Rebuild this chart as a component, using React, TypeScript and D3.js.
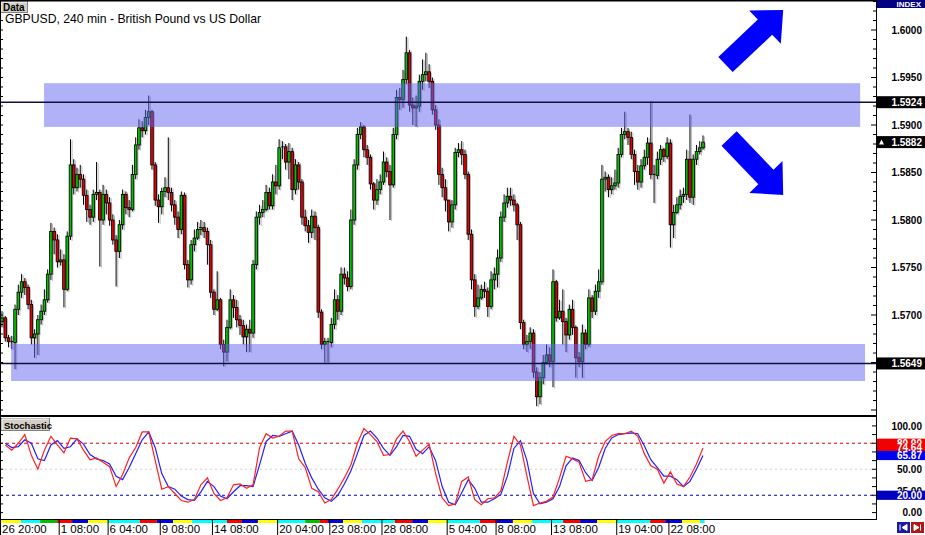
import React from 'react';
import * as d3 from 'd3';

// ---------- price data (GBPUSD, 240 min) ----------
const firstOpen = 1.5693;
const closes = [
  1.5697, 1.5676, 1.5672, 1.5671, 1.5706, 1.5724, 1.5735, 1.5729, 1.5711, 1.5676,
  1.5680, 1.5695, 1.5704, 1.5716, 1.5743, 1.5788, 1.5779, 1.5756, 1.5758, 1.5727,
  1.5783, 1.5858, 1.5834, 1.5848, 1.5843, 1.5826, 1.5811, 1.5803, 1.5827, 1.5829,
  1.5800, 1.5827, 1.5818, 1.5800, 1.5779, 1.5767, 1.5795, 1.5827, 1.5813, 1.5811,
  1.5848, 1.5879, 1.5897, 1.5894, 1.5908, 1.5914, 1.5858, 1.5821, 1.5814, 1.5830,
  1.5834, 1.5829, 1.5816, 1.5803, 1.5790, 1.5826, 1.5753, 1.5737, 1.5774, 1.5781,
  1.5790, 1.5792, 1.5788, 1.5774, 1.5724, 1.5706, 1.5716, 1.5669, 1.5661, 1.5687,
  1.5716, 1.5708, 1.5695, 1.5689, 1.5677, 1.5685, 1.5681, 1.5753, 1.5803, 1.5808,
  1.5811, 1.5829, 1.5815, 1.5840, 1.5836, 1.5876, 1.5877, 1.5861, 1.5872, 1.5832,
  1.5858, 1.5840, 1.5803, 1.5794, 1.5787, 1.5804, 1.5792, 1.5703, 1.5669, 1.5672,
  1.5671, 1.5690, 1.5716, 1.5704, 1.5743, 1.5739, 1.5730, 1.5800, 1.5858, 1.5890,
  1.5898, 1.5874, 1.5866, 1.5838, 1.5821, 1.5832, 1.5840, 1.5861, 1.5851, 1.5837,
  1.5890, 1.5929, 1.5927, 1.5948, 1.5976, 1.5921, 1.5918, 1.5920, 1.5946, 1.5953,
  1.5956, 1.5946, 1.5916, 1.5900, 1.5848, 1.5834, 1.5821, 1.5798, 1.5816, 1.5871,
  1.5874, 1.5869, 1.5848, 1.5785, 1.5737, 1.5709, 1.5718, 1.5727, 1.5725, 1.5709,
  1.5737, 1.5743, 1.5760, 1.5803, 1.5818, 1.5825, 1.5821, 1.5816, 1.5795, 1.5692,
  1.5669, 1.5672, 1.5681, 1.5640, 1.5614, 1.5634, 1.5650, 1.5658, 1.5651, 1.5735,
  1.5697, 1.5704, 1.5693, 1.5679, 1.5706, 1.5687, 1.5655, 1.5651, 1.5681, 1.5669,
  1.5718, 1.5704, 1.5725, 1.5735, 1.5843, 1.5845, 1.5832, 1.5836, 1.5839, 1.5869,
  1.5890, 1.5893, 1.5887, 1.5869, 1.5851, 1.5840, 1.5857, 1.5866, 1.5881, 1.5848,
  1.5847, 1.5864, 1.5874, 1.5867, 1.5881, 1.5795, 1.5808, 1.5816, 1.5825, 1.5827,
  1.5864, 1.5824, 1.5864, 1.5872, 1.5876, 1.5882,
];
const highs = [
  1.5704, 1.5699, 1.5679, 1.5678, 1.5711, 1.5732, 1.5743, 1.5739, 1.5732, 1.5716,
  1.5685, 1.5700, 1.5711, 1.5727, 1.5748, 1.5797, 1.5792, 1.5785, 1.5769, 1.5764,
  1.5788, 1.5885, 1.5864, 1.5855, 1.5858, 1.5848, 1.5832, 1.5816, 1.5832, 1.5861,
  1.5832, 1.5837, 1.5832, 1.5824, 1.5806, 1.5784, 1.5800, 1.5832, 1.5830, 1.5821,
  1.5858, 1.5887, 1.5906, 1.5904, 1.5916, 1.5931, 1.5916, 1.5861, 1.5827, 1.5834,
  1.5845, 1.5887, 1.5834, 1.5821, 1.5809, 1.5830, 1.5829, 1.5758, 1.5779, 1.5790,
  1.5798, 1.5800, 1.5798, 1.5792, 1.5779, 1.5727, 1.5746, 1.5718, 1.5674, 1.5695,
  1.5727, 1.5721, 1.5716, 1.5700, 1.5695, 1.5690, 1.5695, 1.5758, 1.5809, 1.5816,
  1.5821, 1.5837, 1.5834, 1.5848, 1.5858, 1.5885, 1.5883, 1.5880, 1.5881, 1.5876,
  1.5864, 1.5861, 1.5843, 1.5811, 1.5800, 1.5811, 1.5809, 1.5795, 1.5706, 1.5676,
  1.5676, 1.5697, 1.5727, 1.5721, 1.5750, 1.5750, 1.5746, 1.5811, 1.5864, 1.5897,
  1.5903, 1.5900, 1.5879, 1.5869, 1.5840, 1.5843, 1.5848, 1.5872, 1.5866, 1.5858,
  1.5897, 1.5937, 1.5939, 1.5958, 1.5993, 1.5979, 1.5929, 1.5931, 1.5953, 1.5969,
  1.5976, 1.5964, 1.5950, 1.5921, 1.5906, 1.5855, 1.5843, 1.5821, 1.5821, 1.5876,
  1.5881, 1.5883, 1.5874, 1.5851, 1.5790, 1.5743, 1.5732, 1.5732, 1.5735, 1.5729,
  1.5746, 1.5750, 1.5769, 1.5809, 1.5827, 1.5834, 1.5834, 1.5827, 1.5818, 1.5798,
  1.5695, 1.5679, 1.5687, 1.5685, 1.5645, 1.5640, 1.5658, 1.5669, 1.5666, 1.5748,
  1.5737, 1.5716, 1.5727, 1.5697, 1.5711, 1.5716, 1.5689, 1.5661, 1.5690, 1.5685,
  1.5727, 1.5721, 1.5732, 1.5748, 1.5858, 1.5851, 1.5848, 1.5845, 1.5853, 1.5876,
  1.5897, 1.5914, 1.5897, 1.5893, 1.5874, 1.5858, 1.5864, 1.5874, 1.5887, 1.5925,
  1.5858, 1.5872, 1.5879, 1.5876, 1.5887, 1.5885, 1.5816, 1.5824, 1.5832, 1.5834,
  1.5874, 1.5911, 1.5869, 1.5879, 1.5883, 1.5889,
];
const lows = [
  1.5687, 1.5672, 1.5666, 1.5664, 1.5643, 1.5700, 1.5718, 1.5721, 1.5706, 1.5669,
  1.5655, 1.5658, 1.5690, 1.5700, 1.5713, 1.5737, 1.5764, 1.5750, 1.5752, 1.5708,
  1.5725, 1.5779, 1.5827, 1.5830, 1.5834, 1.5816, 1.5798, 1.5795, 1.5798, 1.5821,
  1.5751, 1.5795, 1.5806, 1.5794, 1.5774, 1.5730, 1.5760, 1.5790, 1.5806, 1.5803,
  1.5809, 1.5843, 1.5874, 1.5887, 1.5890, 1.5900, 1.5853, 1.5815, 1.5797, 1.5806,
  1.5824, 1.5821, 1.5809, 1.5795, 1.5781, 1.5785, 1.5748, 1.5729, 1.5732, 1.5767,
  1.5779, 1.5784, 1.5781, 1.5753, 1.5718, 1.5700, 1.5704, 1.5664, 1.5646, 1.5651,
  1.5685, 1.5697, 1.5687, 1.5679, 1.5669, 1.5661, 1.5661, 1.5676, 1.5748, 1.5795,
  1.5803, 1.5809, 1.5811, 1.5811, 1.5827, 1.5832, 1.5864, 1.5853, 1.5843, 1.5821,
  1.5827, 1.5832, 1.5795, 1.5788, 1.5776, 1.5781, 1.5779, 1.5697, 1.5664, 1.5650,
  1.5650, 1.5666, 1.5685, 1.5695, 1.5700, 1.5732, 1.5725, 1.5727, 1.5795, 1.5853,
  1.5885, 1.5866, 1.5858, 1.5832, 1.5811, 1.5816, 1.5827, 1.5837, 1.5845, 1.5800,
  1.5834, 1.5885, 1.5916, 1.5918, 1.5943, 1.5914, 1.5900, 1.5898, 1.5914, 1.5937,
  1.5946, 1.5939, 1.5911, 1.5895, 1.5837, 1.5824, 1.5809, 1.5788, 1.5792, 1.5811,
  1.5866, 1.5858, 1.5843, 1.5779, 1.5727, 1.5698, 1.5706, 1.5716, 1.5718, 1.5698,
  1.5706, 1.5727, 1.5729, 1.5756, 1.5798, 1.5813, 1.5815, 1.5809, 1.5779, 1.5685,
  1.5664, 1.5661, 1.5664, 1.5634, 1.5604, 1.5606, 1.5627, 1.5648, 1.5645, 1.5624,
  1.5693, 1.5695, 1.5669, 1.5661, 1.5674, 1.5679, 1.5634, 1.5645, 1.5634, 1.5664,
  1.5666, 1.5697, 1.5700, 1.5718, 1.5732, 1.5830, 1.5824, 1.5827, 1.5832, 1.5834,
  1.5866, 1.5885, 1.5879, 1.5864, 1.5837, 1.5832, 1.5834, 1.5853, 1.5858, 1.5843,
  1.5818, 1.5843, 1.5858, 1.5861, 1.5864, 1.5771, 1.5781, 1.5806, 1.5811, 1.5818,
  1.5821, 1.5818, 1.5816, 1.5858, 1.5869, 1.5874,
];

// ---------- Stochastic (read every second bar: bars 1,3,5,...) ----------
const stochMain = [
  78, 72, 80, 90, 66, 50, 72, 88, 78, 69,
  86, 85, 72, 61, 63, 58, 53, 30, 44, 63,
  75, 93, 93, 60, 27, 30, 22, 14, 12, 15,
  32, 40, 22, 14, 17, 32, 33, 28, 32, 75,
  91, 86, 88, 94, 94, 62, 52, 28, 24, 11,
  15, 27, 40, 55, 80, 97, 90, 82, 66, 67,
  85, 94, 82, 65, 72, 79, 45, 17, 8, 10,
  36, 41, 15, 9, 16, 17, 25, 58, 88, 78,
  42, 8, 11, 13, 18, 40, 65, 62, 58, 36,
  38, 65, 82, 89, 91, 91, 94, 88, 68, 54,
  50, 34, 47, 33, 30, 41, 56, 74.64,
];
const stochSignal = [
  80, 75, 76, 84, 80, 62, 60, 78, 83, 74,
  76, 85, 79, 67, 62, 60, 56, 42, 38, 52,
  68, 84, 93, 75, 45, 30, 27, 19, 15, 14,
  24, 36, 30, 19, 16, 24, 31, 31, 30, 55,
  82, 89, 88, 91, 94, 78, 57, 40, 27, 17,
  13, 20, 33, 48, 68, 89, 94, 86, 74, 66,
  76, 89, 88, 73, 68, 76, 60, 30, 12, 9,
  23, 38, 28, 12, 12, 16, 21, 42, 74, 83,
  60, 22, 10, 12, 16, 30, 54, 63, 60, 46,
  37, 52, 74, 86, 90, 91, 92, 91, 77, 61,
  52, 42, 42, 38, 30, 36, 50, 65.87,
];

// ---------- axes / annotations ----------
const priceTicks = [1.6, 1.595, 1.59, 1.585, 1.58, 1.575, 1.57, 1.565];
const stochTickLabels = [100, 50, 25, 0];
const stochLevels = [80, 50, 20];
const timeLabels = ['26 20:00', '1 08:00', '6 04:00', '9 08:00', '14 08:00', '20 04:00', '23 08:00', '28 08:00', '5 04:00', '8 08:00', '13 08:00', '19 04:00', '22 08:00'];
const timeLabelBars = [0, 18, 33, 49, 65, 85, 101, 117, 137, 152, 169, 189, 205];
const levelPrices = [1.5924, 1.5649];
const zoneTops = [1.5944, 1.56695];
const zoneBottoms = [1.5898, 1.56305];
const zoneStartBars = [12.9, 2.8];
const zoneEndBars = [263.2, 264.7];
const arrowTailBars = [221.9, 223];
const arrowTailPrices = [1.59637, 1.58858];
const arrowTipBars = [239.6, 239.6];
const arrowTipPrices = [1.60211, 1.58263];
const stripBars = [-0.6, 5.8, 11.7, 16.9, 21.5, 26.4, 32.5, 42.3, 47.5, 52.5, 58.3, 69, 73.6, 78.5, 84.4, 93, 97.5, 100, 104.6, 110.4, 120.5, 125.8, 130.7, 136.5, 146.6, 151.8, 156.7, 162.6, 172.1, 177.3, 182.5, 188.6, 198.8, 203.4, 208.6, 214.1, 215.5];
const stripColors = ['#FFFF00', '#00FFFF', '#00C000', '#FF0000', '#0000E0', '#FFFF00', '#00FFFF', '#FF0000', '#0000E0', '#FFFF00', '#00FFFF', '#FF0000', '#0000E0', '#FFFF00', '#00FFFF', '#00C000', '#FF0000', '#0000E0', '#FFFF00', '#00FFFF', '#FF0000', '#0000E0', '#FFFF00', '#00FFFF', '#FF0000', '#0000E0', '#FFFF00', '#00FFFF', '#FF0000', '#0000E0', '#FFFF00', '#00FFFF', '#FF0000', '#0000E0', '#FFFF00', '#00FFFF'];

const FONT = "'Liberation Sans', Arial, sans-serif";
const GREEN = '#00C000';
const RED = '#E00000';

export default function App() {
  const n = closes.length;
  const AX = 876;
  const MAIN_TOP = 1, MAIN_BOTTOM = 416, ST_TOP = 417, ST_BOTTOM = 519;
  const x = d3.scaleLinear().domain([0, n - 1]).range([2, 703]);
  const y = d3.scaleLinear().domain([1.6, 1.57]).range([30, 315]);
  const ys = d3.scaleLinear().domain([0, 100]).range([512.6, 425.9]);
  const f4 = d3.format('.4f');
  const f2 = d3.format('.2f');

  const candles = closes.map((c, i) => {
    const o = i === 0 ? firstOpen : closes[i - 1];
    return { i, o, c, h: Math.max(highs[i], o, c), l: Math.min(lows[i], o, c) };
  });
  const bw = 2.6;

  const stochLine = d3.line<number>().x((_, k) => x(2 * k + 1)).y((v) => ys(v));

  const minorPrice = d3.range(0, 45).map((j) => 1.56 + j * 0.001);
  const stochMinor = d3.range(0, 11).map((j) => j * 10);

  const arrowPath = (k: number) => {
    const x1 = x(arrowTailBars[k]), y1 = y(arrowTailPrices[k]);
    const x2 = x(arrowTipBars[k]), y2 = y(arrowTipPrices[k]);
    const len = Math.hypot(x2 - x1, y2 - y1);
    const ux = (x2 - x1) / len, uy = (y2 - y1) / len;
    const nx = -uy, ny = ux;
    const sw = 10.5, hw = 23, hl = 25;
    const bx = x2 - ux * hl, by = y2 - uy * hl;
    const pts = [
      [x1 + nx * sw, y1 + ny * sw], [bx + nx * sw, by + ny * sw], [bx + nx * hw, by + ny * hw],
      [x2, y2], [bx - nx * hw, by - ny * hw], [bx - nx * sw, by - ny * sw], [x1 - nx * sw, y1 - ny * sw],
    ];
    return 'M' + pts.map((p) => p[0].toFixed(1) + ',' + p[1].toFixed(1)).join('L') + 'Z';
  };

  const lastPrice = closes[n - 1];
  const priceBoxes = [
    { v: levelPrices[0], tri: false },
    { v: levelPrices[1], tri: false },
    { v: lastPrice, tri: true },
  ];
  const lastK = stochMain[stochMain.length - 1];
  const lastD = stochSignal[stochSignal.length - 1];
  const stochBoxes = [
    { v: 80, fill: '#F00000' },
    { v: lastK, fill: '#F00000' },
    { v: lastD, fill: '#0000F0' },
    { v: 20, fill: '#0000C0' },
  ];

  return (
    <div style={{ position: 'absolute', left: 0, top: 0 }}>
      <svg width={925} height={535} style={{ display: 'block', fontFamily: FONT }}>
        <defs>
          <clipPath id="mainClip"><rect x={1} y={MAIN_TOP} width={AX - 1} height={MAIN_BOTTOM - MAIN_TOP} /></clipPath>
          <clipPath id="stClip"><rect x={1} y={ST_TOP} width={AX - 1} height={ST_BOTTOM - ST_TOP} /></clipPath>
        </defs>
        <rect x={0} y={0} width={925} height={535} fill="#FFFFFF" />

        {/* ---------- main panel ---------- */}
        <g clipPath="url(#mainClip)">
          {/* candle shadows */}
          {candles.map((d) => (
            <g key={'s' + d.i} opacity={0.55}>
              <line x1={x(d.i) + 1.6} x2={x(d.i) + 1.6} y1={y(d.h) + 1} y2={y(d.l) + 1} stroke="#808080" strokeWidth={1} />
              <rect x={x(d.i) - bw / 2 + 1.4} y={Math.min(y(d.o), y(d.c)) + 1} width={bw} height={Math.max(1, Math.abs(y(d.o) - y(d.c)))} fill="#808080" />
            </g>
          ))}
          {/* candles */}
          {candles.map((d) => {
            const top = Math.min(y(d.o), y(d.c));
            const hgt = Math.abs(y(d.o) - y(d.c));
            return (
              <g key={'c' + d.i}>
                <line x1={x(d.i)} x2={x(d.i)} y1={y(d.h)} y2={y(d.l)} stroke="#000000" strokeWidth={1} />
                {hgt < 1 ? (
                  <line x1={x(d.i) - bw / 2} x2={x(d.i) + bw / 2} y1={top} y2={top} stroke="#000" strokeWidth={1} />
                ) : (
                  <rect x={x(d.i) - bw / 2} y={top} width={bw} height={hgt} fill={d.c >= d.o ? GREEN : RED} stroke="#000000" strokeWidth={0.8} />
                )}
              </g>
            );
          })}
          {/* zones */}
          {zoneTops.map((t, k) => (
            <rect key={'z' + k} x={x(zoneStartBars[k])} y={y(t)} width={x(zoneEndBars[k]) - x(zoneStartBars[k])} height={y(zoneBottoms[k]) - y(t)} fill="#6464F2" opacity={0.5} />
          ))}
          {levelPrices.map((p, k) => (
            <line key={'l' + k} x1={0} x2={AX} y1={y(p)} y2={y(p)} stroke="#101040" strokeWidth={1.4} />
          ))}
          {/* arrows */}
          {[0, 1].map((k) => (
            <path key={'a' + k} d={arrowPath(k)} fill="#0000FF" />
          ))}
        </g>

        {/* left edge ticks */}
        {minorPrice.map((p, j) => (
          <line key={'lt' + j} x1={0} x2={3} y1={y(p)} y2={y(p)} stroke="#000" strokeWidth={1} />
        ))}

        {/* title + Data tag */}
        <rect x={0.5} y={1.5} width={27} height={11} fill="#D4D0C8" stroke="#808080" strokeWidth={1} />
        <line x1={1} x2={27} y1={2} y2={2} stroke="#FFFFFF" />
        <line x1={1} x2={1} y1={2} y2={12} stroke="#FFFFFF" />
        <text x={3} y={11} fontSize={10} fontWeight="bold" fill="#000">Data</text>
        <text x={5} y={23} fontSize={12.2} fill="#000">GBPUSD, 240 min - British Pound vs US Dollar</text>

        {/* ---------- price axis ---------- */}
        {minorPrice.map((p, j) => (
          y(p) > MAIN_TOP && y(p) < MAIN_BOTTOM ? (
            <line key={'pt' + j} x1={AX - (j % 5 === 0 ? 5 : 3)} x2={AX} y1={y(p)} y2={y(p)} stroke="#000" strokeWidth={1} />
          ) : null
        ))}
        {priceTicks.map((p) => (
          <text key={'pl' + p} x={922} y={y(p) + 3.6} fontSize={10} fontWeight="bold" textAnchor="end" fill="#000">{f4(p)}</text>
        ))}
        {priceBoxes.map((b, k) => (
          <g key={'pb' + k}>
            <rect x={AX + 1} y={y(b.v) - 6} width={48} height={12} fill="#000000" />
            {b.tri ? <path d={`M${AX + 3},${y(b.v) + 2.5}L${AX + 5.5},${y(b.v) - 2.5}L${AX + 8},${y(b.v) + 2.5}Z`} fill="#FFF" /> : null}
            <text x={922} y={y(b.v) + 3.6} fontSize={10} fontWeight="bold" textAnchor="end" fill="#FFFFFF">{f4(b.v)}</text>
          </g>
        ))}
        <rect x={AX + 1} y={0} width={49} height={8} fill="#000080" />
        <text x={921} y={7} fontSize={8} fontWeight="bold" textAnchor="end" fill="#FFFFFF">INDEX</text>

        {/* ---------- stochastic panel ---------- */}
        <g clipPath="url(#stClip)">
          {stochLevels.map((v) => (
            <line key={'sl' + v} x1={0} x2={AX} y1={ys(v)} y2={ys(v)}
              stroke={v === 80 ? '#E00000' : v === 20 ? '#0000C0' : '#D0D0D0'}
              strokeWidth={1} strokeDasharray={v === 50 ? '2,3' : '3,3'} />
          ))}
          <path d={stochLine(stochSignal) || ''} fill="none" stroke="#2020FF" strokeWidth={1.2} />
          <path d={stochLine(stochMain) || ''} fill="none" stroke="#FF2020" strokeWidth={1.2} />
        </g>
        {stochMinor.map((v) => (
          <g key={'st' + v}>
            <line x1={0} x2={3} y1={ys(v)} y2={ys(v)} stroke="#000" />
            <line x1={AX - 4} x2={AX} y1={ys(v)} y2={ys(v)} stroke="#000" />
          </g>
        ))}
        <rect x={1.5} y={418.5} width={48} height={12} fill="#D4D0C8" stroke="#808080" strokeWidth={1} />
        <line x1={2} x2={49} y1={419} y2={419} stroke="#FFFFFF" />
        <line x1={2} x2={2} y1={419} y2={430} stroke="#FFFFFF" />
        <text x={4} y={428.5} fontSize={9.5} fontWeight="bold" fill="#000">Stochastic</text>
        {stochTickLabels.map((v) => (
          <text key={'sv' + v} x={922} y={ys(v) + 3.6} fontSize={10} fontWeight="bold" textAnchor="end" fill="#000">{f2(v)}</text>
        ))}
        {stochBoxes.map((b, k) => (
          <g key={'sb' + k}>
            <rect x={AX + 1} y={ys(b.v) - 4.6} width={48} height={9.2} fill={b.fill} />
            <text x={922} y={ys(b.v) + 3.6} fontSize={10} fontWeight="bold" textAnchor="end" fill="#FFFFFF">{f2(b.v)}</text>
          </g>
        ))}

        {/* ---------- frames ---------- */}
        <line x1={0} x2={AX} y1={0.5} y2={0.5} stroke="#000" strokeWidth={2} />
        <line x1={0} x2={AX} y1={MAIN_BOTTOM} y2={MAIN_BOTTOM} stroke="#000" strokeWidth={2} />
        <line x1={0} x2={AX} y1={ST_BOTTOM + 0.5} y2={ST_BOTTOM + 0.5} stroke="#000" strokeWidth={1} />
        <line x1={0.5} x2={0.5} y1={0} y2={ST_BOTTOM} stroke="#000" strokeWidth={1} />
        <line x1={AX + 0.5} x2={AX + 0.5} y1={0} y2={ST_BOTTOM + 1} stroke="#000" strokeWidth={1} />

        {/* ---------- time axis ---------- */}
        {stripColors.map((c, k) => (
          <rect key={'ss' + k} x={x(stripBars[k])} y={520} width={x(stripBars[k + 1]) - x(stripBars[k])} height={3} fill={c} />
        ))}
        {timeLabels.map((t, k) => (
          <g key={'tl' + k}>
            <line x1={x(timeLabelBars[k]) - 1.5} x2={x(timeLabelBars[k]) - 1.5} y1={520} y2={535} stroke="#000" strokeWidth={1} />
            <text x={x(timeLabelBars[k])} y={533} fontSize={11.5} fill="#000">{t}</text>
          </g>
        ))}

        {/* nav buttons */}
        <rect x={897} y={522} width={13} height={11} fill="#1A1AA0" />
        <path d="M900,524.5L900,530.5M907,524.5L902,527.5L907,530.5Z" stroke="#FFF" fill="#FFF" strokeWidth={1} />
        <rect x={911} y={522} width={13} height={11} fill="#B01818" />
        <path d="M914,524.5L919,527.5L914,530.5ZM920.5,524.5L920.5,530.5" stroke="#FFF" fill="#FFF" strokeWidth={1} />
      </svg>
    </div>
  );
}
